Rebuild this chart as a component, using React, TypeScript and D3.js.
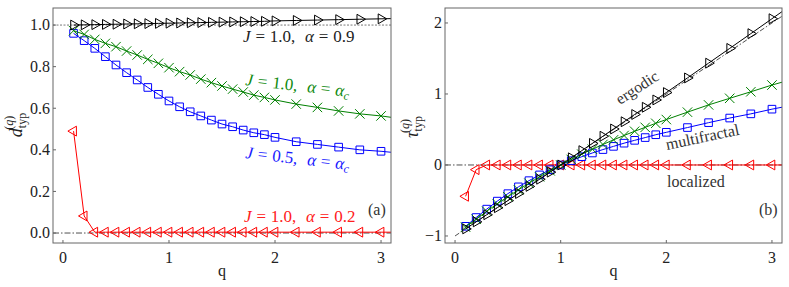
import React, { useRef, useEffect } from 'react';
import * as d3 from 'd3';

// q grid of the markers, plus the point where the drawn curves meet the frame
const qValues = [0.1, 0.2, 0.3, 0.4, 0.5, 0.6, 0.7, 0.8, 0.9, 1.0, 1.1, 1.2, 1.3, 1.4, 1.5, 1.6, 1.7, 1.8, 1.9, 2.0, 2.2, 2.4, 2.6, 2.8, 3.0];
const qEdge = 3.1;

// panel (a): d_typ
const dErgodic = [1.0, 1.001, 1.002, 1.003, 1.004, 1.005, 1.006, 1.007, 1.008, 1.009, 1.01, 1.011, 1.012, 1.013, 1.014, 1.015, 1.016, 1.017, 1.018, 1.02, 1.022, 1.024, 1.026, 1.028, 1.03];
const dMultiJ1 = [0.973, 0.955, 0.931, 0.912, 0.896, 0.875, 0.856, 0.835, 0.816, 0.795, 0.776, 0.76, 0.74, 0.723, 0.707, 0.692, 0.678, 0.663, 0.652, 0.64, 0.62, 0.604, 0.587, 0.573, 0.563];
const dMultiJ05 = [0.96, 0.925, 0.888, 0.848, 0.808, 0.771, 0.736, 0.7, 0.667, 0.635, 0.607, 0.583, 0.563, 0.543, 0.524, 0.511, 0.495, 0.482, 0.473, 0.46, 0.439, 0.426, 0.413, 0.4, 0.393];
const dLocal = [0.49, 0.082, 0.004, 0.004, 0.004, 0.004, 0.004, 0.004, 0.004, 0.004, 0.004, 0.004, 0.004, 0.004, 0.004, 0.004, 0.004, 0.004, 0.004, 0.004, 0.004, 0.004, 0.004, 0.004, 0.004];
const dEdge = [1.031, 0.556, 0.388, 0.004];

// panel (b): tau_typ
const tauErgodic = [-0.9, -0.801, -0.701, -0.602, -0.502, -0.402, -0.302, -0.201, -0.101, 0, 0.101, 0.202, 0.304, 0.405, 0.507, 0.609, 0.711, 0.813, 0.916, 1.02, 1.226, 1.434, 1.642, 1.85, 2.06];
const tauMultiJ1 = [-0.876, -0.764, -0.652, -0.547, -0.448, -0.35, -0.257, -0.167, -0.082, 0, 0.078, 0.152, 0.222, 0.289, 0.354, 0.415, 0.475, 0.53, 0.587, 0.64, 0.744, 0.846, 0.939, 1.031, 1.126];
const tauMultiJ05 = [-0.864, -0.74, -0.622, -0.509, -0.404, -0.308, -0.221, -0.14, -0.067, 0, 0.061, 0.117, 0.169, 0.217, 0.262, 0.307, 0.347, 0.386, 0.426, 0.46, 0.527, 0.596, 0.661, 0.72, 0.786];
const tauLocal = [-0.441, -0.066, 0, 0, 0, 0, 0, 0, 0, 0, 0, 0, 0, 0, 0, 0, 0, 0, 0, 0, 0, 0, 0, 0, 0];
const tauEdge = [2.165, 1.168, 0.815, 0];

const xTicks = [0, 1, 2, 3];
const dTicks = [0, 0.2, 0.4, 0.6, 0.8, 1.0];
const tauTicks = [-1, 0, 1, 2];

const colors = ['#000000', '#008000', '#0000ff', '#ff0000'];
const markers = ['right', 'times', 'square', 'left'];

const FONT = '"Liberation Serif"';

const App: React.FC = () => {
  const svgRef = useRef<SVGSVGElement>(null);

  useEffect(() => {
    if (!svgRef.current) return;
    const svg = d3.select(svgRef.current);
    svg.selectAll('*').remove();

    const markerPath = (kind: string) => {
      if (kind === 'square') return d3.symbol(d3.symbolSquare, 58)()!;
      if (kind === 'times') return d3.symbol(d3.symbolTimes, 60)()!;
      return d3.symbol(d3.symbolTriangle, 42)()!;
    };

    const drawPanel = (opts: {
      id: string;
      left: number;
      right: number;
      xDomain: [number, number];
      yDomain: [number, number];
      yTicks: number[];
      yFormat: (v: number) => string;
      series: number[][];
      edge: number[];
    }) => {
      const top = 8;
      const bottom = 243;
      const x = d3.scaleLinear().domain(opts.xDomain).range([opts.left, opts.right]);
      const y = d3.scaleLinear().domain(opts.yDomain).range([bottom, top]);

      svg
        .append('clipPath')
        .attr('id', `clip-${opts.id}`)
        .append('rect')
        .attr('x', opts.left)
        .attr('y', top)
        .attr('width', opts.right - opts.left)
        .attr('height', bottom - top);

      const g = svg.append('g');
      const plot = g.append('g').attr('clip-path', `url(#clip-${opts.id})`);

      // reference lines
      plot
        .append('line')
        .attr('x1', opts.left)
        .attr('x2', opts.right)
        .attr('y1', y(0))
        .attr('y2', y(0))
        .attr('stroke', '#222')
        .attr('stroke-width', 0.8)
        .attr('stroke-dasharray', '6,2,1.5,2');

      if (opts.id === 'a') {
        plot
          .append('line')
          .attr('x1', opts.left)
          .attr('x2', opts.right)
          .attr('y1', y(1))
          .attr('y2', y(1))
          .attr('stroke', '#555')
          .attr('stroke-width', 0.8)
          .attr('stroke-dasharray', '2,1.5');
      } else {
        plot
          .append('line')
          .attr('x1', x(0))
          .attr('y1', y(-1))
          .attr('x2', x(opts.xDomain[1]))
          .attr('y2', y(opts.xDomain[1] - 1))
          .attr('stroke', '#222')
          .attr('stroke-width', 0.8)
          .attr('stroke-dasharray', '5,2,1.5,2');
      }

      const line = d3
        .line<[number, number]>()
        .x((d) => x(d[0]))
        .y((d) => y(d[1]));

      // draw from the back series to the front: red, blue, green, black
      [3, 2, 1, 0].forEach((i) => {
        const vals = opts.series[i];
        const pts: [number, number][] = qValues.map((q, j) => [q, vals[j]]);
        plot
          .append('path')
          .datum([...pts, [qEdge, opts.edge[i]] as [number, number]])
          .attr('fill', 'none')
          .attr('stroke', colors[i])
          .attr('stroke-width', 1)
          .attr('d', line);

        const kind = markers[i];
        const rot = kind === 'right' ? 90 : kind === 'left' ? -90 : 0;
        plot
          .selectAll(`.m-${opts.id}-${i}`)
          .data(pts)
          .enter()
          .append('path')
          .attr('class', `m-${opts.id}-${i}`)
          .attr('d', markerPath(kind))
          .attr('transform', (d) => `translate(${x(d[0])},${y(d[1])}) rotate(${rot})`)
          .attr('fill', 'none')
          .attr('stroke', colors[i])
          .attr('stroke-width', 1);
      });

      // frame
      g.append('rect')
        .attr('x', opts.left)
        .attr('y', top)
        .attr('width', opts.right - opts.left)
        .attr('height', bottom - top)
        .attr('fill', 'none')
        .attr('stroke', '#666')
        .attr('stroke-width', 1);

      // x ticks
      xTicks.forEach((t) => {
        g.append('line')
          .attr('x1', x(t))
          .attr('x2', x(t))
          .attr('y1', bottom)
          .attr('y2', bottom - 3)
          .attr('stroke', '#666');
        g.append('text')
          .attr('x', x(t))
          .attr('y', 263)
          .attr('text-anchor', 'middle')
          .style('font-family', FONT)
          .style('font-size', '16px')
          .attr('fill', '#222')
          .text(t);
      });

      // y ticks
      opts.yTicks.forEach((t) => {
        g.append('line')
          .attr('x1', opts.left)
          .attr('x2', opts.left + 3)
          .attr('y1', y(t))
          .attr('y2', y(t))
          .attr('stroke', '#666');
        g.append('text')
          .attr('x', opts.left - 3)
          .attr('y', y(t))
          .attr('dy', '0.34em')
          .attr('text-anchor', 'end')
          .style('font-family', FONT)
          .style('font-size', '16px')
          .attr('fill', '#222')
          .text(opts.yFormat(t));
      });

      // x-axis label
      g.append('text')
        .attr('x', (opts.left + opts.right) / 2)
        .attr('y', 276)
        .attr('text-anchor', 'middle')
        .style('font-family', FONT)
        .style('font-size', '16px')
        .attr('fill', '#222')
        .text('q');

      return { x, y, g };
    };

    const a = drawPanel({
      id: 'a',
      left: 53,
      right: 391,
      xDomain: [-0.094, 3.094],
      yDomain: [-0.048, 1.082],
      yTicks: dTicks,
      yFormat: d3.format('.1f'),
      series: [dErgodic, dMultiJ1, dMultiJ05, dLocal],
      edge: dEdge,
    });

    const b = drawPanel({
      id: 'b',
      left: 445,
      right: 782,
      xDomain: [-0.095, 3.095],
      yDomain: [-1.099, 2.211],
      yTicks: tauTicks,
      yFormat: (v) => (v < 0 ? `\u2212${Math.abs(v)}` : `${v}`),
      series: [tauErgodic, tauMultiJ1, tauMultiJ05, tauLocal],
      edge: tauEdge,
    });

    // math-style label: J = .., α = ..
    const mathLabel = (
      g: d3.Selection<SVGGElement, unknown, null, undefined>,
      px: number,
      py: number,
      rot: number,
      jVal: string,
      alpha: string | null,
      color: string
    ) => {
      const t = g
        .append('text')
        .attr('transform', `translate(${px},${py}) rotate(${rot})`)
        .style('font-family', FONT)
        .style('font-size', '17px')
        .style('white-space', 'pre')
        .style('word-spacing', '0.6px')
        .attr('fill', color);
      t.append('tspan').style('font-style', 'italic').text('J');
      t.append('tspan').text(` = ${jVal},  `);
      t.append('tspan').style('font-style', 'italic').text('α');
      if (alpha) {
        t.append('tspan').text(` = ${alpha}`);
      } else {
        t.append('tspan').text(' = ');
        t.append('tspan').style('font-style', 'italic').text('α');
        t.append('tspan').style('font-style', 'italic').style('font-size', '12px').attr('dy', 3).text('c');
      }
    };

    mathLabel(a.g, 243, 41.5, 0, '1.0', '0.9', '#222');
    mathLabel(a.g, 245, 85, 6.5, '1.0', null, '#108a10');
    mathLabel(a.g, 245, 158, 6.5, '0.5', null, '#1a1aff');
    mathLabel(a.g, 244, 222, 0, '1.0', '0.2', '#ff2020');

    const plain = (
      g: d3.Selection<SVGGElement, unknown, null, undefined>,
      px: number,
      py: number,
      rot: number,
      txt: string
    ) =>
      g
        .append('text')
        .attr('transform', `translate(${px},${py}) rotate(${rot})`)
        .style('font-family', FONT)
        .style('font-size', '16px')
        .attr('fill', '#333')
        .text(txt);

    plain(a.g, 368, 215, 0, '(a)');
    plain(b.g, 759, 215, 0, '(b)');
    plain(b.g, 620, 105, -33, 'ergodic');
    plain(b.g, 667, 150, -12, 'multifractal');
    plain(b.g, 667, 186.5, 0, 'localized');

    // y-axis labels
    const yLabel = (
      g: d3.Selection<SVGGElement, unknown, null, undefined>,
      px: number,
      py: number,
      sym: string
    ) => {
      const t = g
        .append('text')
        .attr('transform', `translate(${px},${py}) rotate(-90)`)
        .attr('text-anchor', 'middle')
        .style('font-family', FONT)
        .style('font-size', '18px')
        .attr('fill', '#222');
      t.append('tspan').style('font-style', 'italic').text(sym);
      t.append('tspan').style('font-size', '12px').attr('dy', 4).text('typ');
      t.append('tspan').style('font-size', '12px').attr('dx', -17).attr('dy', -13).text('(');
      t.append('tspan').style('font-size', '12px').style('font-style', 'italic').text('q');
      t.append('tspan').style('font-size', '12px').text(')');
    };

    yLabel(a.g, 22, 125, 'd');
    yLabel(b.g, 418, 127, 'τ');
  }, []);

  return (
    <svg
      ref={svgRef}
      width={789}
      height={287}
      style={{ position: 'absolute', left: 0, top: 0, background: '#fff' }}
    />
  );
};

export default App;
